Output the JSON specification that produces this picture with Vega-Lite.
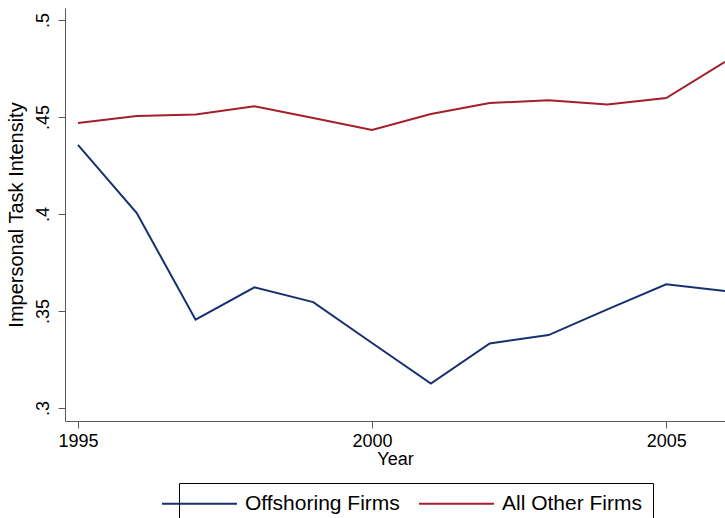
{
  "$schema": "https://vega.github.io/schema/vega-lite/v6.json",
  "width": 660,
  "height": 413,
  "autosize": {"type": "none"},
  "padding": {"left": 65, "top": 8, "right": 0, "bottom": 97},
  "background": "white",
  "config": {
    "view": {"stroke": null},
    "font": "Liberation Sans",
    "axis": {"domainColor": "#5a5a5a", "tickColor": "#5a5a5a", "grid": false, "labelColor": "black", "titleColor": "black", "labelFont": "Liberation Sans", "titleFont": "Liberation Sans", "titleFontWeight": "normal"}
  },
  "data": {
    "values": [
      {"year": 1995, "series": "Offshoring Firms", "value": 0.4356},
      {"year": 1996, "series": "Offshoring Firms", "value": 0.4005},
      {"year": 1997, "series": "Offshoring Firms", "value": 0.3455},
      {"year": 1998, "series": "Offshoring Firms", "value": 0.3622},
      {"year": 1999, "series": "Offshoring Firms", "value": 0.3546},
      {"year": 2000, "series": "Offshoring Firms", "value": 0.3335},
      {"year": 2001, "series": "Offshoring Firms", "value": 0.3126},
      {"year": 2002, "series": "Offshoring Firms", "value": 0.3333},
      {"year": 2003, "series": "Offshoring Firms", "value": 0.3376},
      {"year": 2004, "series": "Offshoring Firms", "value": 0.3508},
      {"year": 2005, "series": "Offshoring Firms", "value": 0.3638},
      {"year": 2006, "series": "Offshoring Firms", "value": 0.3603},
      {"year": 1995, "series": "All Other Firms", "value": 0.4469},
      {"year": 1996, "series": "All Other Firms", "value": 0.4505},
      {"year": 1997, "series": "All Other Firms", "value": 0.4513},
      {"year": 1998, "series": "All Other Firms", "value": 0.4555},
      {"year": 1999, "series": "All Other Firms", "value": 0.4495},
      {"year": 2000, "series": "All Other Firms", "value": 0.4433},
      {"year": 2001, "series": "All Other Firms", "value": 0.4516},
      {"year": 2002, "series": "All Other Firms", "value": 0.4572},
      {"year": 2003, "series": "All Other Firms", "value": 0.4586},
      {"year": 2004, "series": "All Other Firms", "value": 0.4565},
      {"year": 2005, "series": "All Other Firms", "value": 0.4598},
      {"year": 2006, "series": "All Other Firms", "value": 0.4784}
    ]
  },
  "mark": {"type": "line", "strokeWidth": 2, "clip": true},
  "encoding": {
    "x": {
      "field": "year", "type": "quantitative",
      "scale": {"domain": [1994.78, 2006], "nice": false, "zero": false},
      "axis": {"title": "Year", "values": [1995, 2000, 2005], "format": "d", "labelFontSize": 18, "titleFontSize": 18, "tickSize": 7, "labelPadding": 4, "titlePadding": 0, "labelFlush": false}
    },
    "y": {
      "field": "value", "type": "quantitative",
      "scale": {"domain": [0.2933, 0.5062], "nice": false, "zero": false},
      "axis": {"title": "Impersonal Task Intensity", "values": [0.3, 0.35, 0.4, 0.45, 0.5], "labelExpr": "slice(format(datum.value, '.2~f'), 1)", "labelAngle": -90, "labelFontSize": 18, "titleFontSize": 20, "tickSize": 7, "labelPadding": 6, "titlePadding": 8}
    },
    "color": {
      "field": "series", "type": "nominal",
      "scale": {"domain": ["Offshoring Firms", "All Other Firms"], "range": ["#16306f", "#a51e2b"]},
      "legend": {
        "title": null, "orient": "none", "direction": "horizontal",
        "legendX": 114, "legendY": 475,
        "strokeColor": "black", "padding": 10, "fillColor": "white",
        "symbolType": "M-5,0H5", "symbolSize": 225, "symbolStrokeWidth": 2,
        "labelFontSize": 21, "labelOffset": 35, "columnPadding": 15, "labelLimit": 400
      }
    }
  }
}
